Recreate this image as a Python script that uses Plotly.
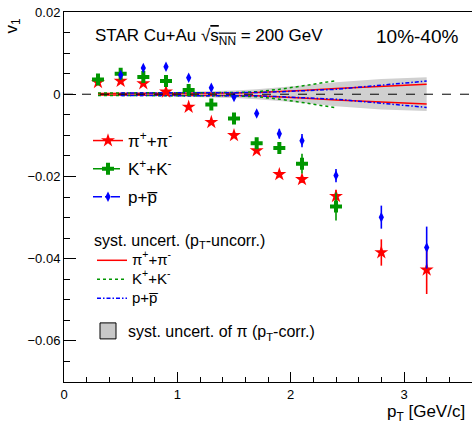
import plotly.graph_objects as go

# ---- data ----
pt_pi = [0.3, 0.5, 0.7, 0.9, 1.1, 1.3, 1.5, 1.7, 1.9, 2.1, 2.4, 2.8, 3.2]
v1_pi = [0.0029, 0.0032, 0.0026, 0.0006, -0.0031, -0.0068, -0.0100, -0.0137,
         -0.0195, -0.0207, -0.0248, -0.0385, -0.0427]
err_pi = [0.0002, 0.0002, 0.0002, 0.0002, 0.0003, 0.0003, 0.0004, 0.0005,
          0.0007, 0.0009, 0.0015, 0.0032, 0.0059]
sys_pi = [0.0002, 0.0002, 0.0002, 0.0002, 0.0002, 0.0002, 0.0003, 0.0004,
          0.0006, 0.0009, 0.0014, 0.0019, 0.0024]
corr_pi = [0.0003, 0.0003, 0.0004, 0.0005, 0.0006, 0.0007, 0.0009, 0.0012,
           0.0016, 0.0021, 0.0029, 0.0037, 0.0041]

pt_k = [0.3, 0.5, 0.7, 0.9, 1.1, 1.3, 1.5, 1.7, 1.9, 2.1, 2.4]
v1_k = [0.0036, 0.0050, 0.0042, 0.0032, 0.0010, -0.0025, -0.0059, -0.0119,
        -0.0131, -0.0169, -0.0273]
err_k = [0.0002, 0.0002, 0.0002, 0.0003, 0.0003, 0.0004, 0.0005, 0.0008,
         0.0010, 0.0024, 0.0034]
sys_k = [0.0003, 0.0003, 0.0003, 0.0003, 0.0003, 0.0003, 0.0004, 0.0006,
         0.0012, 0.0020, 0.0033]

pt_p = [0.5, 0.7, 0.9, 1.1, 1.3, 1.5, 1.7, 1.9, 2.1, 2.4, 2.8, 3.2]
v1_p = [0.0047, 0.0064, 0.0067, 0.0040, 0.0016, -0.0007, -0.0047, -0.0096,
        -0.0113, -0.0198, -0.0299, -0.0373]
err_p = [0.0003, 0.0003, 0.0003, 0.0004, 0.0004, 0.0005, 0.0006, 0.0012,
         0.0016, 0.0016, 0.0028, 0.0051]
sys_p = [0.0003, 0.0003, 0.0003, 0.0003, 0.0003, 0.0003, 0.0004, 0.0006,
         0.0008, 0.0012, 0.0022, 0.0032]

RED = "#ff0000"
GREEN = "#009600"
BLUE = "#0000ff"
GREY = "#d0d0d0"
FONT = "Liberation Sans, Arial, Helvetica, sans-serif"
BLUE_DASH = "4px,2px,1.5px,2px"

fig = go.Figure()

# grey pT-correlated band for pions
fig.add_trace(go.Scatter(x=pt_pi, y=[-c for c in corr_pi], mode="lines",
                         line=dict(width=0, color=GREY), showlegend=False,
                         hoverinfo="skip"))
fig.add_trace(go.Scatter(x=pt_pi, y=corr_pi, mode="lines", fill="tonexty",
                         fillcolor=GREY, line=dict(width=0, color=GREY),
                         showlegend=False, hoverinfo="skip"))


def band(pt, s):
    return pt + [None] + pt, s + [None] + [-v for v in s]


def leg_name(t):
    return "<span style='font-size:15px'>" + t + "</span>"


# pT-uncorrelated syst lines
for pt, s, col, dash, nm in [
    (pt_pi, sys_pi, RED, "solid", "π<sup>+</sup>+π<sup>-</sup>"),
    (pt_k, sys_k, GREEN, "dot", "K<sup>+</sup>+K<sup>-</sup>"),
    (pt_p, sys_p, BLUE, BLUE_DASH, "p+p̅"),
]:
    xs, ys = band(pt, s)
    fig.add_trace(go.Scatter(x=xs, y=ys, mode="lines", connectgaps=False,
                             line=dict(color=col, width=1.5, dash=dash),
                             name=leg_name(nm), legend="legend2",
                             hoverinfo="skip"))

# data points
series = [
    (pt_pi, v1_pi, err_pi, RED, "star", 10.5, "solid", "π<sup>+</sup>+π<sup>-</sup>"),
    (pt_k, v1_k, err_k, GREEN, "cross", 10, "dash", "K<sup>+</sup>+K<sup>-</sup>"),
    (pt_p, v1_p, err_p, BLUE, "diamond-tall", 7.5, "dashdot", "p+p̅"),
]
for i, (pt, v, e, col, sym, sz, dash, nm) in enumerate(series):
    fig.add_trace(go.Scatter(
        x=pt, y=v, mode="markers",
        marker=dict(symbol=sym, size=sz, color=col, line=dict(width=0)),
        error_y=dict(type="data", array=e, width=0, thickness=1.6,
                     color=col),
        showlegend=False))
for i, (pt, v, e, col, sym, sz, dash, nm) in enumerate(series):
    # legend proxy (line through marker, as in the original)
    fig.add_trace(go.Scatter(
        x=[None], y=[None], mode="lines+markers", name=nm,
        marker=dict(symbol=sym, size=sz, color=col, line=dict(width=0)),
        line=dict(color=col, width=1.5, dash=dash),
        legend="legend", legendgroup="g%d" % i))

# legend proxy for the grey band
fig.add_trace(go.Scatter(
    x=[None], y=[None], mode="markers",
    name="syst. uncert. of π (p<sub>T</sub>-corr.)",
    marker=dict(symbol="square", size=16, color="#c8c8c8",
                line=dict(color="black", width=1)),
    legend="legend3"))

# zero reference line
fig.add_shape(type="line", xref="paper", yref="y", x0=0, x1=1, y0=0, y1=0,
              line=dict(color="black", width=1, dash="dash"), layer="above")

LX = (88 - 64) / 408
fig.update_layout(
    width=472, height=428,
    margin=dict(l=64, r=0, t=12, b=46),
    paper_bgcolor="white", plot_bgcolor="white",
    font=dict(family=FONT, color="black", size=13),
    xaxis=dict(range=[0, 3.6], dtick=1, tick0=0, ticks="inside", ticklen=10,
               tickwidth=1, tickcolor="black", showline=True, linecolor="black",
               linewidth=1, mirror=True, showgrid=False, zeroline=False,
               tickfont=dict(size=13),
               minor=dict(dtick=0.2, ticks="inside", ticklen=5,
                          tickcolor="black", showgrid=False)),
    yaxis=dict(range=[-0.07, 0.02], dtick=0.02, tick0=0, ticks="inside",
               ticklen=12, tickwidth=1, tickcolor="black", showline=True,
               linecolor="black", linewidth=1, showgrid=False, zeroline=False,
               tickfont=dict(size=13),
               minor=dict(dtick=0.005, ticks="inside", ticklen=6,
                          tickcolor="black", showgrid=False)),
    legend=dict(x=LX, y=(382 - 123) / 370, xanchor="left",
                yanchor="top", bgcolor="rgba(0,0,0,0)", borderwidth=0,
                font=dict(size=17), tracegroupgap=3, itemwidth=30),
    legend2=dict(x=(92 - 64) / 408, y=(382 - 225) / 370, xanchor="left",
                 yanchor="top", bgcolor="rgba(0,0,0,0)", borderwidth=0,
                 font=dict(size=11), itemwidth=30,
                 title=dict(text="syst. uncert. (p<sub>T</sub>-uncorr.)",
                            font=dict(size=16))),
    legend3=dict(x=LX, y=(382 - 314) / 370, xanchor="left",
                 yanchor="top", bgcolor="rgba(0,0,0,0)", borderwidth=0,
                 font=dict(size=16), itemwidth=30),
    showlegend=True,
    annotations=[
        dict(text="STAR Cu+Au √<span style='text-decoration:overline'>s<sub>NN</sub></span> = 200 GeV",
             xref="paper", yref="paper", x=(93 - 64) / 408,
             y=(382 - 37) / 370, xanchor="left", yanchor="middle",
             showarrow=False, font=dict(size=17)),
        dict(text="10%-40%", xref="paper", yref="paper",
             x=(374 - 64) / 408, y=(382 - 36) / 370, xanchor="left",
             yanchor="middle", showarrow=False, font=dict(size=19)),
        dict(text="v<sub>1</sub>", xref="paper", yref="paper",
             x=(12.5 - 64) / 408, y=(382 - 26) / 370, xanchor="center",
             yanchor="middle", textangle=-90, showarrow=False,
             font=dict(size=17)),
        dict(text="p<sub>T</sub> [GeV/c]", xref="paper", yref="paper",
             x=(467 - 64) / 408, y=(382 - 413) / 370, xanchor="right",
             yanchor="middle", showarrow=False, font=dict(size=17)),
    ],
)

fig.write_html("out.html")
